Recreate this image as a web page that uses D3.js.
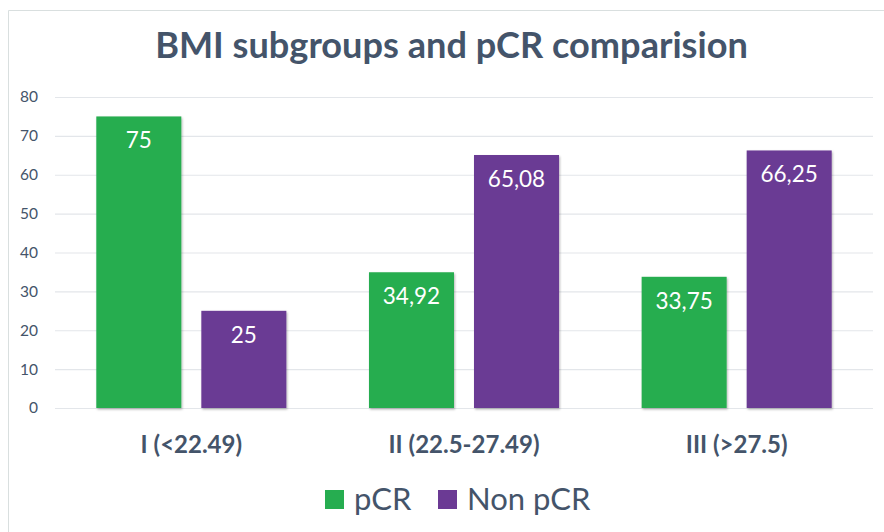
<!DOCTYPE html>
<html>
<head>
<meta charset="utf-8">
<script src="https://cdn.jsdelivr.net/npm/d3@7"></script>
<style>
  html, body { margin: 0; padding: 0; background: #fff; }
  svg { display: block; font-family: Lato, "Open Sans", sans-serif; }
</style>
</head>
<body>
<svg id="chart" width="884" height="532"></svg>
<script>
const categories = ["I (<22.49)", "II (22.5-27.49)", "III (>27.5)"];
const seriesNames = ["pCR", "Non pCR"];
const pcrValues = [75, 34.92, 33.75];
const nonPcrValues = [25, 65.08, 66.25];
const yTicks = [0, 10, 20, 30, 40, 50, 60, 70, 80];
const colors = ["#26AD50", "#6B3A94"];
const textColor = "#44546A";

const svg = d3.select("#chart");
const W = 884, H = 532;
const m = { left: 55, right: 11, top: 97, bottom: 124 };
const innerW = W - m.left - m.right;

// chart frame (top and left edges visible)
svg.append("path")
  .attr("d", `M8.5,${H} L8.5,10.5 L${W},10.5`)
  .attr("fill", "none").attr("stroke", "#D9DFDF").attr("stroke-width", 1);

const defs = svg.append("defs");
const f = defs.append("filter").attr("id", "shadow").attr("x", "-10%").attr("y", "-10%").attr("width", "130%").attr("height", "130%");
f.append("feDropShadow").attr("dx", 1).attr("dy", 1.5).attr("stdDeviation", 1.2)
  .attr("flood-color", "#000").attr("flood-opacity", 0.28);

const y = d3.scaleLinear().domain([0, 80]).range([408, 97]);
const x0 = d3.scaleBand().domain(categories).range([m.left, m.left + innerW])
  .paddingInner(0.303).paddingOuter(0.1515);
const x1 = d3.scaleBand().domain(seriesNames).range([0, x0.bandwidth()]).paddingInner(0.1905);

// gridlines
const yAxis = d3.axisLeft(y).tickValues(yTicks).tickSize(-innerW).tickPadding(17)
  .tickFormat(d3.format("d"));
const gy = svg.append("g").attr("transform", `translate(${m.left},0)`).call(yAxis);
gy.select(".domain").remove();
gy.selectAll(".tick line").attr("stroke", "#E3E6EA").attr("stroke-width", 1.2);
gy.selectAll(".tick text").attr("fill", textColor).attr("font-size", 15.5)
  .attr("font-family", "Lato, sans-serif");

const data = categories.map((c, i) => ({ cat: c, vals: [pcrValues[i], nonPcrValues[i]] }));

const groups = svg.append("g").selectAll("g").data(data).join("g")
  .attr("transform", d => `translate(${x0(d.cat)},0)`);

groups.selectAll("rect").data(d => d.vals.map((v, j) => ({ v, s: seriesNames[j], j })))
  .join("rect")
  .attr("x", d => x1(d.s))
  .attr("y", d => y(d.v))
  .attr("width", x1.bandwidth())
  .attr("height", d => y(0) - y(d.v))
  .attr("fill", d => colors[d.j])
  .attr("filter", "url(#shadow)");

const commaFmt = v => String(v).replace(".", ",");
groups.selectAll("text.val").data(d => d.vals.map((v, j) => ({ v, s: seriesNames[j], j })))
  .join("text").attr("class", "val")
  .attr("x", d => x1(d.s) + x1.bandwidth() / 2)
  .attr("y", d => y(d.v) + 32)
  .attr("text-anchor", "middle")
  .attr("fill", "#fff")
  .attr("font-size", 22.5)
  .text(d => commaFmt(d.v));

// x axis labels
const xAxis = d3.axisBottom(x0).tickSize(0).tickPadding(0);
const gx = svg.append("g").attr("transform", `translate(0,${y(0)})`).call(xAxis);
gx.select(".domain").remove();
gx.selectAll(".tick text")
  .attr("y", 45).attr("dy", 0)
  .attr("fill", textColor).attr("font-size", 24).attr("font-weight", "bold")
  .attr("font-family", "Lato, sans-serif");

// title
const title = svg.append("text")
  .attr("x", 451.5).attr("y", 58)
  .attr("text-anchor", "middle")
  .attr("fill", textColor).attr("font-weight", "bold").attr("font-size", 30)
  .text("BMI subgroups and pCR comparision");
{
  const w = title.node().getComputedTextLength();
  title.attr("font-size", 30 * 593 / w);
}

// legend
const legend = svg.append("g");
const legendItems = [
  { name: seriesNames[0], color: colors[0], sx: 325, tx: 354 },
  { name: seriesNames[1], color: colors[1], sx: 438, tx: 467 }
];
legendItems.forEach(it => {
  legend.append("rect").attr("x", it.sx).attr("y", 490).attr("width", 19).attr("height", 19)
    .attr("fill", it.color);
  legend.append("text").attr("x", it.tx).attr("y", 510)
    .attr("fill", textColor).attr("font-size", 31).text(it.name);
});
</script>
</body>
</html>
